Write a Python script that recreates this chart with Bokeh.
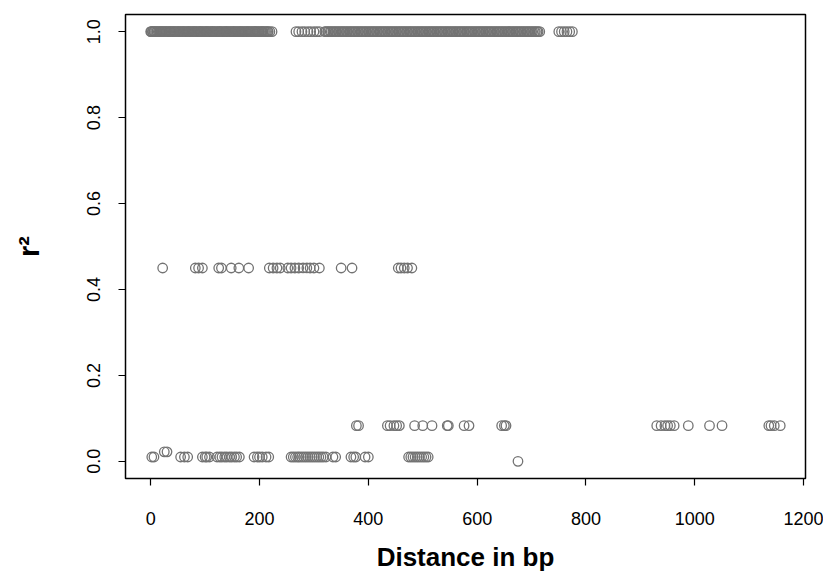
from bokeh.plotting import figure
from bokeh.models import Range1d, FixedTicker, PrintfTickFormatter, ColumnDataSource
from bokeh.embed import file_html
from bokeh.resources import INLINE

# distances (bp) for each observed r^2 level
dist_r2_100 = [0, 1, 3, 4, 6, 7, 9, 11, 12, 14, 16, 17, 19, 21, 22, 24, 26, 28, 29, 31, 33,
               35, 36, 38, 40, 42, 43, 45, 47, 49, 51, 52, 54, 56, 58, 60, 61, 63, 65, 67,
               69, 70, 72, 74, 76, 78, 80, 81, 83, 85, 87, 89, 91, 92, 94, 96, 98, 100, 102,
               103, 105, 107, 109, 111, 113, 114, 116, 118, 120, 122, 124, 126, 127, 129,
               131, 133, 135, 137, 139, 140, 142, 144, 146, 148, 150, 152, 153, 155, 157,
               159, 161, 163, 165, 166, 168, 170, 172, 174, 176, 178, 179, 181, 183, 185,
               187, 189, 191, 192, 194, 196, 198, 200, 202, 204, 205, 207, 209, 211, 213,
               215, 216, 219, 223,
               267, 272, 278, 283, 289, 294, 300, 305, 310,
               320, 322, 325, 327, 330, 332, 335, 337, 340, 342, 345, 347, 350, 352, 355,
               357, 360, 362, 365, 367, 370, 372, 375, 377, 380, 382, 385, 387, 390, 392,
               395, 397, 400, 402, 405, 407, 410, 412, 415, 417, 420, 422, 425, 427, 430,
               432, 435, 437, 440, 442, 445, 447, 450, 452, 455, 457, 460, 462, 465, 467,
               470, 472, 475, 477, 480, 482, 485, 487, 490, 492, 495, 497, 500, 502, 505,
               507, 510, 512, 515, 517, 520, 522, 525, 527, 530, 532, 535, 537, 540, 542,
               545, 547, 550, 552, 555, 557, 560, 562, 565, 567, 570, 572, 575, 577, 580,
               582, 585, 587, 590, 592, 595, 597, 600, 602, 605, 607, 610, 612, 615, 617,
               620, 622, 625, 627, 630, 632, 635, 637, 640, 642, 645, 647, 650, 652, 655,
               657, 660, 662, 665, 667, 670, 672, 675, 677, 680, 682, 685, 687, 690, 692,
               695, 697, 700, 702, 705, 707, 710, 712, 715,
               750, 755, 760, 765, 770, 775]
dist_r2_045 = [22, 82, 88, 95, 125, 130, 148, 162, 180, 218, 225, 232, 238, 252, 258, 265,
               272, 280, 287, 293, 300, 310, 350, 370, 455, 460, 466, 472, 480]
dist_r2_008 = [378, 382, 435, 440, 447, 452, 457, 485, 500, 517, 545, 547, 576, 585, 645,
               650, 653, 930, 938, 945, 950, 955, 962, 988, 1027, 1050, 1136, 1140, 1146, 1157]
dist_r2_002 = [25, 30]
dist_r2_001 = [2, 6, 55, 62, 68, 95, 100, 103, 108, 122, 127, 131, 136, 140, 145, 149, 154,
               158, 163, 190, 196, 200, 205, 212, 217, 258, 262, 266, 270, 273, 277, 281,
               285, 289, 293, 297, 301, 305, 309, 313, 317, 322, 335, 340, 368, 373, 377,
               394, 400, 474, 478, 482, 486, 490, 494, 498, 502, 506, 510]
dist_r2_000 = [675]

r2_levels = [1.0, 0.45, 0.083, 0.022, 0.01, 0.0]
dist_groups = [dist_r2_100, dist_r2_045, dist_r2_008, dist_r2_002, dist_r2_001, dist_r2_000]

x_ticks = [0, 200, 400, 600, 800, 1000, 1200]
y_ticks = [0.0, 0.2, 0.4, 0.6, 0.8, 1.0]

xs, ys = [], []
for lvl, grp in zip(r2_levels, dist_groups):
    xs.extend(grp)
    ys.extend([lvl] * len(grp))
src = ColumnDataSource(dict(x=xs, y=ys))

p = figure(width=823, height=574, output_backend="svg", toolbar_location=None,
           x_range=Range1d(-46.3, 1203.4), y_range=Range1d(-0.04, 1.04),
           min_border_left=125, min_border_right=18, min_border_top=14, min_border_bottom=93)
p.background_fill_color = "white"
p.border_fill_color = "white"
p.grid.visible = False
p.outline_line_color = "black"
p.outline_line_width = 1.5

p.scatter("x", "y", source=src, marker="circle", size=9.5, fill_color=None,
          line_color="#737373", line_width=1.3)

font = "Liberation Sans"
for ax in (p.xaxis[0], p.yaxis[0]):
    ax.axis_line_color = None
    ax.major_tick_line_color = "black"
    ax.major_tick_line_width = 1.2
    ax.major_tick_out = 7
    ax.major_tick_in = 0
    ax.minor_tick_line_color = None
    ax.major_label_text_font = font
    ax.major_label_text_font_size = "18px"
    ax.major_label_text_color = "black"
    ax.axis_label_text_font = font
    ax.axis_label_text_font_style = "bold"
    ax.axis_label_text_font_size = "26px"
    ax.axis_label_text_color = "black"

p.xaxis.ticker = FixedTicker(ticks=x_ticks)
p.yaxis.ticker = FixedTicker(ticks=y_ticks)
p.yaxis.formatter = PrintfTickFormatter(format="%.1f")
p.yaxis.major_label_orientation = "vertical"
p.xaxis.axis_label = "Distance in bp"
p.yaxis.axis_label = "r²"
p.yaxis.axis_label_text_font_size = "29px"
p.xaxis.major_label_standoff = 26
p.xaxis.axis_label_standoff = 14
p.yaxis.major_label_standoff = 18
p.yaxis.axis_label_standoff = 40

open("out.html", "w").write(file_html(p, INLINE))
